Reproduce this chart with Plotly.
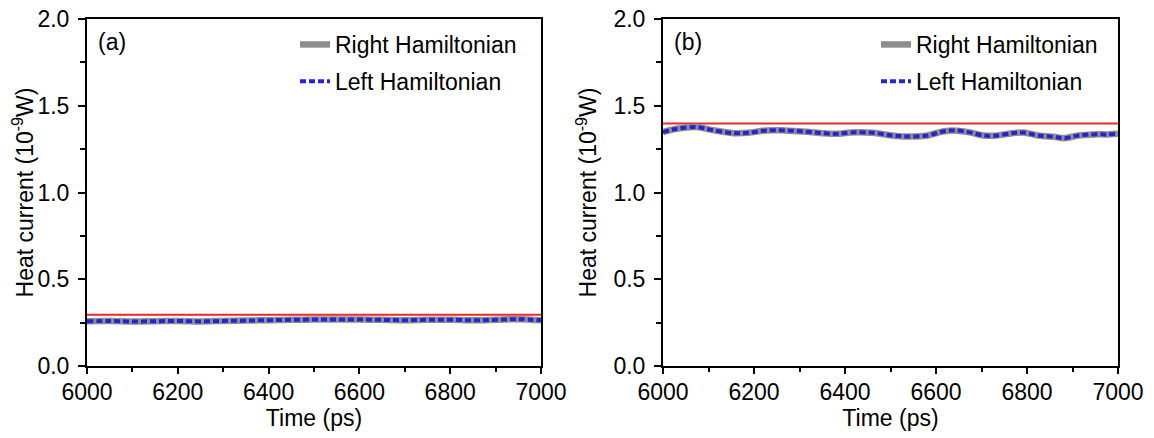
import plotly.graph_objects as go

# ---------------- data ----------------
time_a = [6000, 6050, 6100, 6150, 6200, 6250, 6300, 6350, 6400, 6450, 6500, 6550, 6600,
          6650, 6700, 6750, 6800, 6850, 6900, 6950, 7000]
left_a = [0.258, 0.259, 0.257, 0.258, 0.260, 0.257, 0.260, 0.262, 0.264, 0.266, 0.268, 0.268,
          0.268, 0.266, 0.264, 0.266, 0.267, 0.263, 0.266, 0.270, 0.263]
right_a = left_a
ref_a = 0.296

time_b = [6000, 6030, 6074, 6106, 6155, 6187, 6227, 6268, 6308, 6348, 6381, 6413, 6461, 6502,
          6534, 6582, 6615, 6639, 6671, 6703, 6727, 6768, 6792, 6824, 6865, 6881, 6913, 6945,
          6977, 7000]
left_b = [1.348, 1.367, 1.377, 1.361, 1.342, 1.344, 1.358, 1.358, 1.352, 1.342, 1.338, 1.346,
          1.344, 1.329, 1.323, 1.329, 1.352, 1.358, 1.348, 1.329, 1.327, 1.342, 1.346, 1.329,
          1.319, 1.313, 1.329, 1.335, 1.335, 1.338]
right_b = left_b
ref_b = 1.398

x_ticks = [6000, 6200, 6400, 6600, 6800, 7000]
y_ticks = [0.0, 0.5, 1.0, 1.5, 2.0]
y_ticklabels = ["0.0", "0.5", "1.0", "1.5", "2.0"]

# ---------------- styling ----------------
W, H = 1154, 438
OFF = 8  # page body margin offset
ML, MT = 87 - OFF, 19 - OFF
MR = W - (1118 - OFF)
MB = H - (366.5 - OFF)
PW = W - ML - MR
PH = H - MT - MB
FONT = "Liberation Sans, Arial, sans-serif"
FS = 23
RED = "#e8282a"
GRAY = "#8e8e8e"
BLUE = "#2424d6"


def px_x(p):
    return (p - OFF - ML) / PW


def px_y(p):
    return (H - MB - (p - OFF)) / PH


fig = go.Figure()

panels = [
    ("x", "y", "legend", time_a, right_a, left_a, ref_a),
    ("x2", "y2", "legend2", time_b, right_b, left_b, ref_b),
]
for xa, ya, lg, t, r, l, ref in panels:
    fig.add_trace(go.Scatter(x=[t[0], t[-1]], y=[ref, ref], mode="lines",
                             line=dict(color=RED, width=2), showlegend=False,
                             xaxis=xa, yaxis=ya))
    fig.add_trace(go.Scatter(x=t, y=r, mode="lines", name="Right Hamiltonian",
                             line=dict(color=GRAY, width=6.5, shape="spline"),
                             legend=lg, legendgroup="r" + xa,
                             xaxis=xa, yaxis=ya))
    fig.add_trace(go.Scatter(x=t, y=l, mode="lines", name="Left Hamiltonian",
                             line=dict(color=BLUE, width=4, dash="6px,3px", shape="spline"),
                             legend=lg, legendgroup="l" + xa,
                             xaxis=xa, yaxis=ya))


def xaxis_cfg(domain, anchor):
    return dict(domain=domain, anchor=anchor, range=[6000, 7000], automargin=False,
                tickvals=x_ticks, ticks="outside", ticklen=6, tickwidth=2,
                tickcolor="black", showline=True, linecolor="black", linewidth=2,
                mirror=True, showgrid=False, zeroline=False, ticklabelstandoff=-2,
                ticklabeloverflow="allow",
                minor=dict(ticks="outside", dtick=100, ticklen=4, tickwidth=2,
                           tickcolor="black", showgrid=False),
                tickfont=dict(family=FONT, size=FS, color="black"),
                title=dict(text="Time (ps)", font=dict(family=FONT, size=FS, color="black"),
                           standoff=4))


def yaxis_cfg(anchor):
    return dict(domain=[0, 1], anchor=anchor, range=[0, 2], automargin=False,
                tickvals=y_ticks, ticktext=y_ticklabels, ticks="outside", ticklen=7,
                tickwidth=2, tickcolor="black", showline=True, linecolor="black",
                linewidth=2, mirror=True, showgrid=False, zeroline=False,
                ticklabelstandoff=4, ticklabeloverflow="allow",
                minor=dict(ticks="outside", dtick=0.25, ticklen=5, tickwidth=2,
                           tickcolor="black", showgrid=False),
                tickfont=dict(family=FONT, size=FS, color="black"),
                title=dict(text="Heat current (10<sup>-9</sup>W)",
                           font=dict(family=FONT, size=FS, color="black"), standoff=10))


legend_common = dict(bgcolor="rgba(0,0,0,0)", borderwidth=0, tracegroupgap=4,
                     font=dict(family=FONT, size=FS, color="black"),
                     xanchor="left", yanchor="top", itemwidth=30)

fig.update_layout(
    width=W, height=H,
    margin=dict(l=ML, r=MR, t=MT, b=MB, autoexpand=False),
    paper_bgcolor="white", plot_bgcolor="white",
    xaxis=xaxis_cfg([0, px_x(541)], "y"),
    yaxis=yaxis_cfg("x"),
    xaxis2=xaxis_cfg([px_x(663), 1], "y2"),
    yaxis2=yaxis_cfg("x2"),
    legend=dict(x=px_x(295), y=px_y(23), **legend_common),
    legend2=dict(x=px_x(876), y=px_y(23), **legend_common),
    annotations=[
        dict(text="(a)", xref="x domain", yref="y domain", x=0.02, y=0.978,
             xanchor="left", yanchor="top", showarrow=False,
             font=dict(family=FONT, size=FS, color="black")),
        dict(text="(b)", xref="x2 domain", yref="y2 domain", x=0.02, y=0.978,
             xanchor="left", yanchor="top", showarrow=False,
             font=dict(family=FONT, size=FS, color="black")),
    ],
)

fig.write_html("out.html")
